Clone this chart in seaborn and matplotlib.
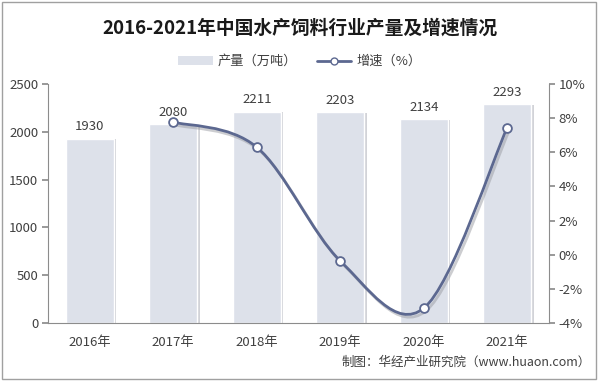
import numpy as np
import pandas as pd
import matplotlib
matplotlib.use('Agg')
import matplotlib.pyplot as plt
import matplotlib.patheffects as pe
from matplotlib.path import Path
from matplotlib.patches import PathPatch, Rectangle
from matplotlib.lines import Line2D
from matplotlib.ticker import FuncFormatter
import seaborn as sns

# ── data ──
years = ['2016年', '2017年', '2018年', '2019年', '2020年', '2021年']
output = [1930, 2080, 2211, 2203, 2134, 2293]          # 产量（万吨）
growth_years = [1, 2, 3, 4, 5]                          # index of years with growth value
growth = [7.77, 6.30, -0.36, -3.13, 7.45]               # 增速（%）

sns.set_theme(style='white')
plt.rcParams['font.family'] = ['Noto Sans CJK SC', 'DejaVu Sans']

BAR = '#dde1ea'
LINE = '#5c6890'
AXC = '#8c8c8c'
TXT = '#404040'

fig = plt.figure(figsize=(6, 3.81), dpi=100)
ax = fig.add_axes([0.08, 0.152, 0.835, 0.6275])

df = pd.DataFrame({'year': years, 'output': output})
sns.barplot(data=df, x='year', y='output', color=BAR, width=0.58, ax=ax,
            saturation=1, zorder=2)
for p in ax.patches:
    p.set_path_effects([pe.SimplePatchShadow(offset=(1.5, -0.5), shadow_rgbFace='#b4b7bf', alpha=0.6),
                        pe.Normal()])
for i, v in enumerate(output):
    ax.text(i, v + 55, str(v), ha='center', va='bottom', fontsize=9.5, color=TXT)

ax.set_xlim(-0.5, 5.5)
ax.set_ylim(0, 2500)
ax.set_yticks(range(0, 2501, 500))
ax.set_xlabel('')
ax.set_ylabel('')
for s in ['top', 'right']:
    ax.spines[s].set_visible(False)
ax.spines['left'].set_color(AXC)
ax.spines['bottom'].set_color(AXC)
ax.spines['left'].set_linewidth(0.8)
ax.spines['bottom'].set_linewidth(0.8)
ax.tick_params(axis='y', left=True, length=4, color=AXC, labelsize=9.5, labelcolor=TXT, pad=3)
ax.tick_params(axis='x', bottom=False, labelsize=9.5, labelcolor=TXT, pad=3)

# right axis
ax2 = ax.twinx()
ax2.set_ylim(-4, 10)
ax2.set_yticks(range(-4, 11, 2))
ax2.yaxis.set_major_formatter(FuncFormatter(lambda v, _: f'{int(v)}%'))
for s in ['top', 'left', 'bottom']:
    ax2.spines[s].set_visible(False)
ax2.spines['right'].set_color(AXC)
ax2.spines['right'].set_linewidth(0.8)
ax2.tick_params(axis='y', right=True, length=4, color=AXC, labelsize=9.5, labelcolor=TXT, pad=3)
ax2.grid(False)
ax.grid(False)

# smooth line (Catmull-Rom as cubic Bezier)
pts = np.column_stack([growth_years, growth]).astype(float)
n = len(pts)
verts = [pts[0]]
codes = [Path.MOVETO]
for i in range(n - 1):
    p0 = pts[max(i - 1, 0)]
    p1 = pts[i]
    p2 = pts[i + 1]
    p3 = pts[min(i + 2, n - 1)]
    c1 = p1 + (p2 - p0) / 6
    c2 = p2 - (p3 - p1) / 6
    verts += [c1, c2, p2]
    codes += [Path.CURVE4] * 3
curve = PathPatch(Path(verts, codes), facecolor='none', edgecolor=LINE, lw=2, zorder=3,
                  path_effects=[pe.SimpleLineShadow(offset=(1.5, -2), shadow_color='#9a9ca3', alpha=0.5),
                                pe.Normal()])
ax2.add_patch(curve)
sns.scatterplot(x=growth_years, y=growth, ax=ax2, s=40, color='white', edgecolor=LINE,
                linewidth=1.3, zorder=4)

# title & legend
fig.text(0.5, 0.925, '2016-2021年中国水产饲料行业产量及增速情况', ha='center', va='center',
         fontsize=13.5, fontweight='bold', color='#1a1a1a')
handles = [Rectangle((0, 0), 1, 1, facecolor=BAR, edgecolor='none'),
           Line2D([0], [0], color=LINE, lw=2, marker='o', markersize=5,
                  markerfacecolor='white', markeredgecolor=LINE)]
fig.legend(handles, ['产量（万吨）', '增速（%）'], loc='center', bbox_to_anchor=(0.5, 0.838),
           ncol=2, frameon=False, fontsize=9.5, handlelength=2.6, columnspacing=1.5,
           handletextpad=0.4, labelcolor=TXT)

fig.text(0.985, 0.05, '制图：华经产业研究院（www.huaon.com）', ha='right', va='center',
         fontsize=9, color=TXT)

# outer border
fig.add_artist(Rectangle((0.004, 0.005), 0.99, 0.99, transform=fig.transFigure,
                         facecolor='none', edgecolor='#a0a0a0', lw=1))

fig.savefig('out.png', dpi=100)
